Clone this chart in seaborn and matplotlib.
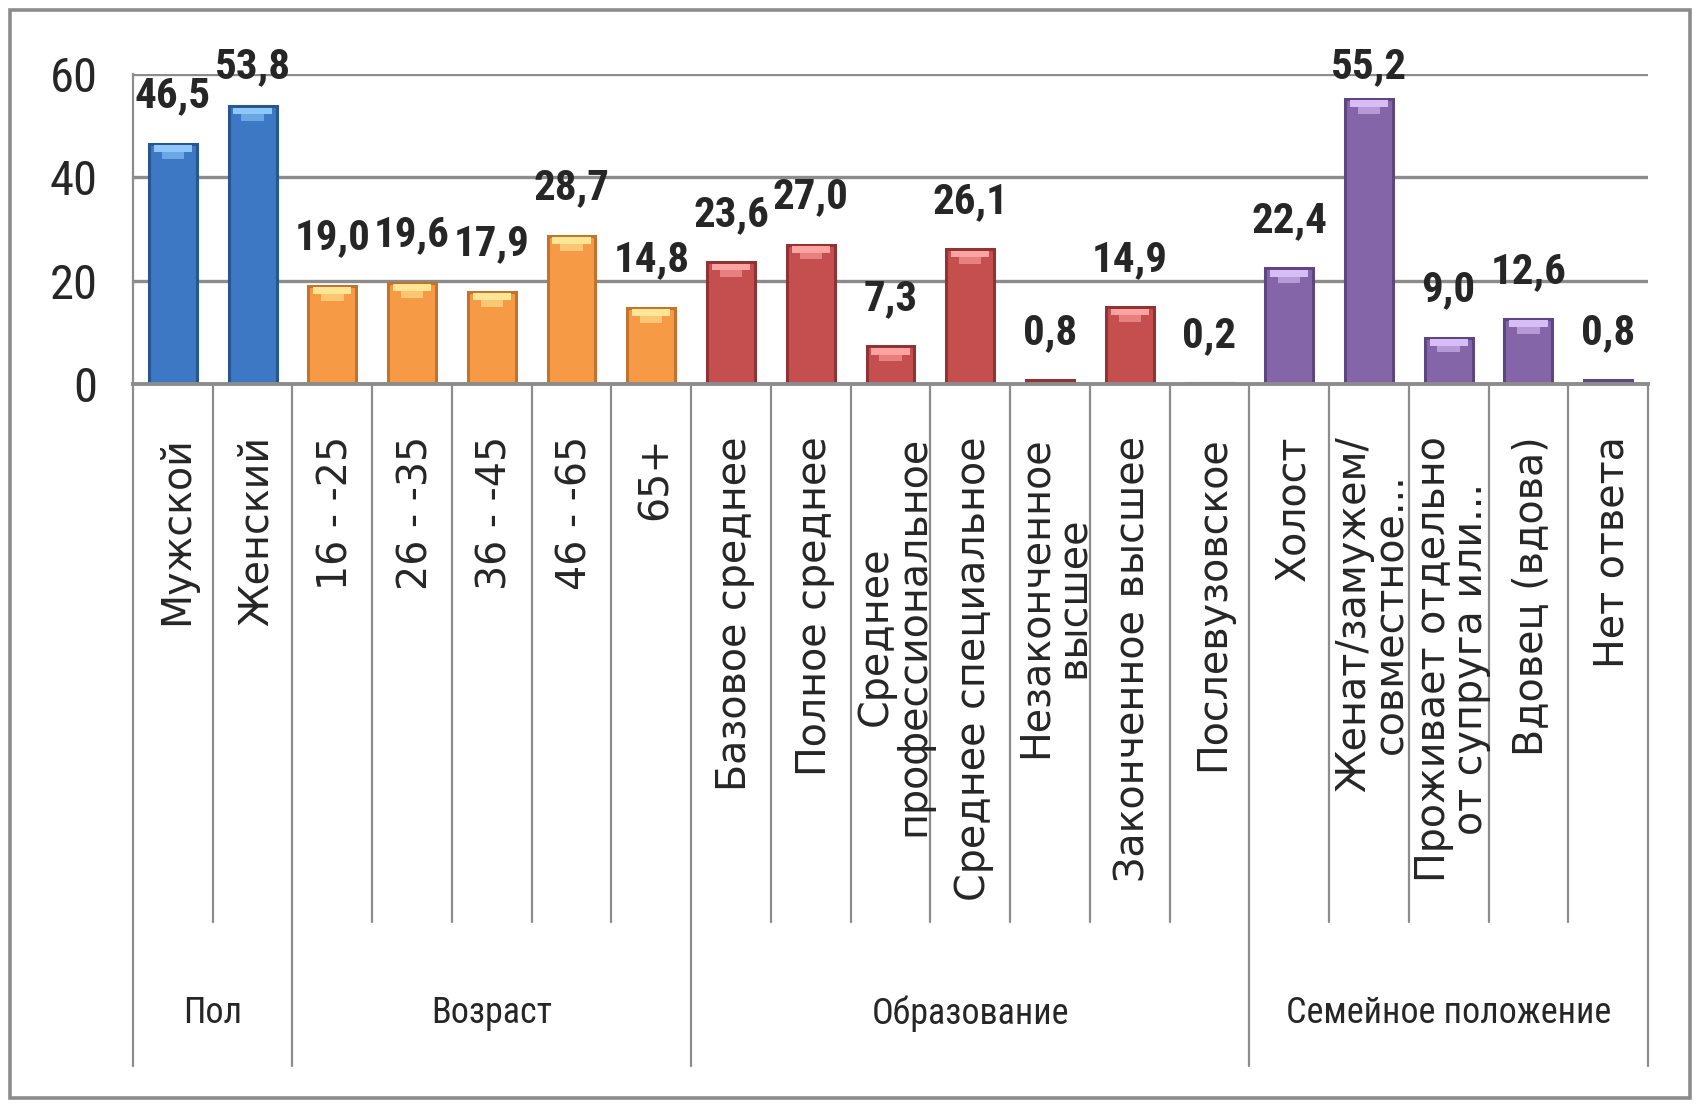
import numpy as np
import pandas as pd
import matplotlib
matplotlib.use('Agg')
import matplotlib.pyplot as plt
import matplotlib.transforms as mtransforms
from matplotlib import font_manager as fm
from matplotlib.patches import Rectangle
import seaborn as sns

# --- данные ---
categories = ['Мужской', 'Женский',
              '16 - -25', '26 - -35', '36 - -45', '46 - -65', '65+',
              'Базовое среднее', 'Полное среднее', 'Среднее\nпрофессиональное',
              'Среднее специальное', 'Незаконченное\nвысшее', 'Законченное высшее',
              'Послевузовское',
              'Холост', 'Женат/замужем/\nсовместное...', 'Проживает отдельно\nот супруга или...',
              'Вдовец (вдова)', 'Нет ответа']
values = [46.5, 53.8,
          19.0, 19.6, 17.9, 28.7, 14.8,
          23.6, 27.0, 7.3, 26.1, 0.8, 14.9, 0.2,
          22.4, 55.2, 9.0, 12.6, 0.8]
groups = ['Пол', 'Возраст', 'Образование', 'Семейное положение']
group_sizes = [2, 5, 7, 5]
yticks = [0, 20, 40, 60]

# цвета групп (основной, край, блик)
base_cols = ['#3C78C3', '#F79A45', '#C44F4E', '#8466A8']
edge_cols = ['#2A5690', '#C07430', '#8E3434', '#5E4680']
light_cols = ['#8CC8F8', '#FFE694', '#FFA3A0', '#D6BDF5']

grp_of = np.repeat(np.arange(len(groups)), group_sizes)
df = pd.DataFrame({'cat': categories, 'val': values, 'grp': grp_of})


# узкий шрифт (в оригинале сжатый Calibri) - ищем что есть
def narrow_font(bold):
    best = None
    for f in fm.fontManager.ttflist:
        p = f.fname.lower()
        if not ('narrow' in p or 'condensed' in p):
            continue
        if 'semi' in p or 'extra' in p or 'ultra' in p or f.style != 'normal':
            continue
        w = f.weight if isinstance(f.weight, int) else (700 if 'bold' in str(f.weight) else 400)
        if (w >= 600) != bold:
            continue
        if 'light' in p or 'thin' in p or 'medium' in p or 'black' in p:
            continue
        rank = 0 if 'liberation' in p else 1 if 'roboto' in p else 2 if 'dejavu' in p else 3
        if best is None or rank < best[0]:
            best = (rank, f.fname)
    if best:
        return fm.FontProperties(fname=best[1])
    return fm.FontProperties(family='Liberation Sans', weight='bold' if bold else 'normal')


fp_reg = narrow_font(False)
fp_bold = narrow_font(True)

sns.set_style('white')
plt.rcParams['font.family'] = ['DejaVu Sans']
gray = '#8C8C8C'

fig = plt.figure(figsize=(16.98, 11.04), dpi=100)
ax = fig.add_axes([133 / 1698, 1 - 384 / 1104, (1648 - 133) / 1698, (384 - 74) / 1104])

sns.barplot(data=df, x='cat', y='val', hue='cat', palette=[base_cols[g] for g in grp_of],
            legend=False, width=0.6, ax=ax, saturation=1, zorder=3)
for p, g in zip(ax.patches, grp_of):
    p.set_edgecolor(edge_cols[g])
    p.set_linewidth(2.2)

# блик сверху столбцов
x = np.arange(len(values))
v = np.array(values)
big = v > 3
ax.bar(x[big], 1.3, bottom=v[big] - 1.6, width=0.48,
       color=[light_cols[g] for g in grp_of[big]], zorder=4, linewidth=0)
ax.bar(x[big], 1.3, bottom=v[big] - 2.9, width=0.28,
       color=[light_cols[g] for g in grp_of[big]], alpha=0.6, zorder=4, linewidth=0)

# подписи значений
for xi, vi in zip(x, values):
    ax.text(xi, min(vi + 7.0, 59.2), f'{vi:.1f}'.replace('.', ','), ha='center', va='baseline',
            fontproperties=fp_bold, fontsize=31, zorder=6)

ax.set_ylim(0, 60)
ax.set_xlim(-0.5, len(values) - 0.5)
ax.set_yticks(yticks)
ax.set_yticklabels([str(t) for t in yticks], fontproperties=fp_reg, fontsize=35)
ax.tick_params(axis='y', length=9.5, width=2, color=gray, pad=16)
ax.set_xticks([])
ax.set_xlabel('')
ax.set_ylabel('')
ax.grid(axis='y', color=gray, linewidth=2.4, zorder=0)
ax.set_axisbelow(True)
for s in ['top', 'right']:
    ax.spines[s].set_visible(False)
ax.spines['left'].set_color(gray)
ax.spines['left'].set_linewidth(1.6)
ax.spines['bottom'].set_color(gray)
ax.spines['bottom'].set_linewidth(2.8)
ax.spines['bottom'].set_zorder(5)

# многоуровневая ось категорий
trans = mtransforms.blended_transform_factory(ax.transData, ax.transAxes)
bounds = np.concatenate([[0], np.cumsum(group_sizes)])
for b in range(len(values) + 1):
    y_end = -2.2 if b in bounds else -1.735
    ax.plot([b - 0.5, b - 0.5], [0, y_end], color=gray, lw=1.6, transform=trans, clip_on=False)

for xi, lab in zip(x, categories):
    ax.text(xi + 0.05, -0.168, lab, transform=trans, rotation=90, ha='center', va='top',
            multialignment='center', fontsize=28.5, linespacing=0.9)

for i, g in enumerate(groups):
    cx = (bounds[i] + bounds[i + 1]) / 2 - 0.5
    ax.text(cx, -2.03, g, transform=trans, ha='center', va='center',
            fontproperties=fp_reg, fontsize=26)

# рамка диаграммы
fig.patches.append(Rectangle((10 / 1698, 1 - 1098 / 1104), 1680 / 1698, 1088 / 1104,
                             transform=fig.transFigure, fill=False, edgecolor=gray, linewidth=2.6))

fig.savefig('out.png', dpi=100)
